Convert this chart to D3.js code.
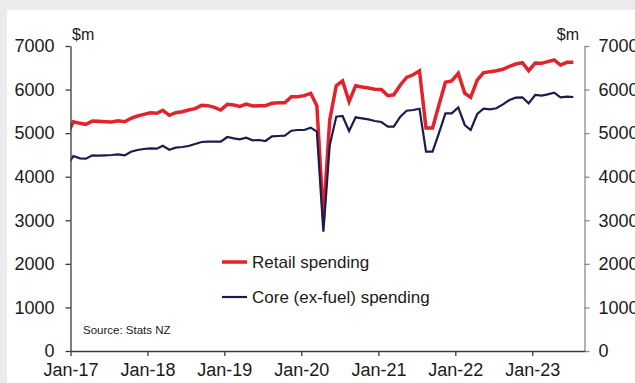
<!DOCTYPE html>
<html>
<head>
<meta charset="utf-8">
<script src="https://cdn.jsdelivr.net/npm/d3@7"></script>
<style>
  html, body { margin: 0; padding: 0; background: #ebebee; }
  svg { display: block; font-family: "Liberation Sans", Arial, sans-serif; }
</style>
</head>
<body>
<svg id="chart" width="635" height="383"></svg>
<script>
// Monthly spending, $m (Dec-16 to Jul-23)
const months = d3.timeMonth.range(new Date(2016, 11, 1), new Date(2023, 7, 1));

const retailSpending = [
  4960,
  5262, 5225, 5202, 5279, 5271, 5262, 5256, 5285, 5262, 5340, 5393, 5432,
  5469, 5455, 5524, 5409, 5469, 5493, 5531, 5562, 5638, 5631, 5592, 5531,
  5661, 5646, 5615, 5669, 5623, 5631, 5631, 5684, 5695, 5699, 5837, 5837,
  5860, 5914, 5631, 3050, 5300, 6089, 6197, 5722, 6089, 6060, 6035, 6010,
  6000, 5860, 5880, 6105, 6280, 6340, 6430, 5120, 5120, 5640, 6170, 6197,
  6373, 5914, 5822, 6219, 6390, 6411, 6434, 6465, 6534, 6587, 6617, 6434,
  6610, 6602, 6640, 6679, 6564, 6625, 6625
];

const coreSpending = [
  4261,
  4475, 4422, 4414, 4490, 4483, 4490, 4498, 4513, 4490, 4574, 4613, 4636,
  4651, 4643, 4712, 4620, 4666, 4682, 4705, 4751, 4797, 4804, 4804, 4804,
  4911, 4881, 4858, 4896, 4835, 4842, 4820, 4927, 4935, 4942, 5056, 5072,
  5072, 5125, 5033, 2740, 4720, 5377, 5393, 5049, 5363, 5340, 5317, 5279,
  5255, 5148, 5148, 5377, 5515, 5531, 5561, 4574, 4574, 4996, 5455, 5455,
  5592, 5187, 5072, 5439, 5560, 5546, 5570, 5661, 5760, 5814, 5822, 5684,
  5875, 5860, 5890, 5929, 5822, 5837, 5829
];

const yTicks = [0, 1000, 2000, 3000, 4000, 5000, 6000, 7000];
const xTicks = [2017, 2018, 2019, 2020, 2021, 2022, 2023].map(yr => new Date(yr, 0, 1));

const seriesNames = ["Retail spending", "Core (ex-fuel) spending"];
const seriesColors = ["#e3222b", "#1d1b4e"];

const svg = d3.select("#chart");

// white panel
svg.append("rect").attr("x", 7).attr("y", 10).attr("width", 628).attr("height", 373).attr("fill", "#ffffff");

const plotLeft = 70.5, plotRight = 584.5, plotTop = 46, plotBottom = 351;

// points sit mid-month
const mid = d => d3.timeDay.offset(d, 14);

const x = d3.scaleTime()
  .domain([new Date(2017, 0, 1), new Date(2023, 8, 6)])
  .range([plotLeft, plotRight]);

const y = d3.scaleLinear().domain([0, 7000]).range([plotBottom, plotTop]);

svg.append("defs").append("clipPath").attr("id", "plot")
  .append("rect").attr("x", plotLeft).attr("y", 0).attr("width", plotRight - plotLeft).attr("height", 383);

const line = d3.line().x((d, i) => x(mid(months[i]))).y(d => y(d));

const g = svg.append("g").attr("clip-path", "url(#plot)");
g.append("path").datum(retailSpending).attr("d", line)
  .attr("fill", "none").attr("stroke", seriesColors[0]).attr("stroke-width", 3.5);
g.append("path").datum(coreSpending).attr("d", line)
  .attr("fill", "none").attr("stroke", seriesColors[1]).attr("stroke-width", 2.2);

// axes
const styleAxis = (sel, col, size) => {
  sel.selectAll(".domain").attr("stroke", col).attr("stroke-width", 1.3);
  sel.selectAll(".tick line").attr("stroke", col).attr("stroke-width", 1.3);
  sel.selectAll(".tick text").attr("fill", "#1a1a1a").style("font-size", size)
    .style("font-family", "Liberation Sans, Arial, sans-serif");
};

const yLeft = svg.append("g").attr("transform", `translate(${plotLeft},0)`)
  .call(d3.axisLeft(y).tickValues(yTicks).tickFormat(d3.format("d")).tickSizeInner(5).tickSizeOuter(0).tickPadding(11));
styleAxis(yLeft, "#3a3a3a", "18px");

const yRight = svg.append("g").attr("transform", `translate(${plotRight},0)`)
  .call(d3.axisRight(y).tickValues(yTicks).tickFormat(d3.format("d")).tickSizeInner(5).tickSizeOuter(0).tickPadding(9));
styleAxis(yRight, "#8a8a8a", "18px");

const xAxis = svg.append("g").attr("transform", `translate(0,${plotBottom})`)
  .call(d3.axisBottom(x).tickValues(xTicks).tickFormat(d3.timeFormat("%b-%y")).tickSizeInner(5).tickSizeOuter(0).tickPadding(7));
styleAxis(xAxis, "#3a3a3a", "18px");

// unit labels
svg.append("text").attr("x", 72).attr("y", 40).text("$m")
  .style("font-size", "16px").attr("fill", "#1a1a1a");
svg.append("text").attr("x", 579).attr("y", 40).attr("text-anchor", "end").text("$m")
  .style("font-size", "16px").attr("fill", "#1a1a1a");

// legend
const legend = svg.append("g");
seriesNames.forEach((name, i) => {
  const ly = 262 + i * 35;
  legend.append("line").attr("x1", 222).attr("x2", 247).attr("y1", ly).attr("y2", ly)
    .attr("stroke", seriesColors[i]).attr("stroke-width", i === 0 ? 3.5 : 2.2);
  legend.append("text").attr("x", 252).attr("y", ly).attr("dy", "0.35em").text(name)
    .style("font-size", "17px").attr("fill", "#1a1a1a");
});

svg.append("text").attr("x", 83).attr("y", 330).attr("dy", "0.35em").text("Source: Stats NZ")
  .style("font-size", "11.5px").attr("fill", "#1a1a1a");
</script>
</body>
</html>
